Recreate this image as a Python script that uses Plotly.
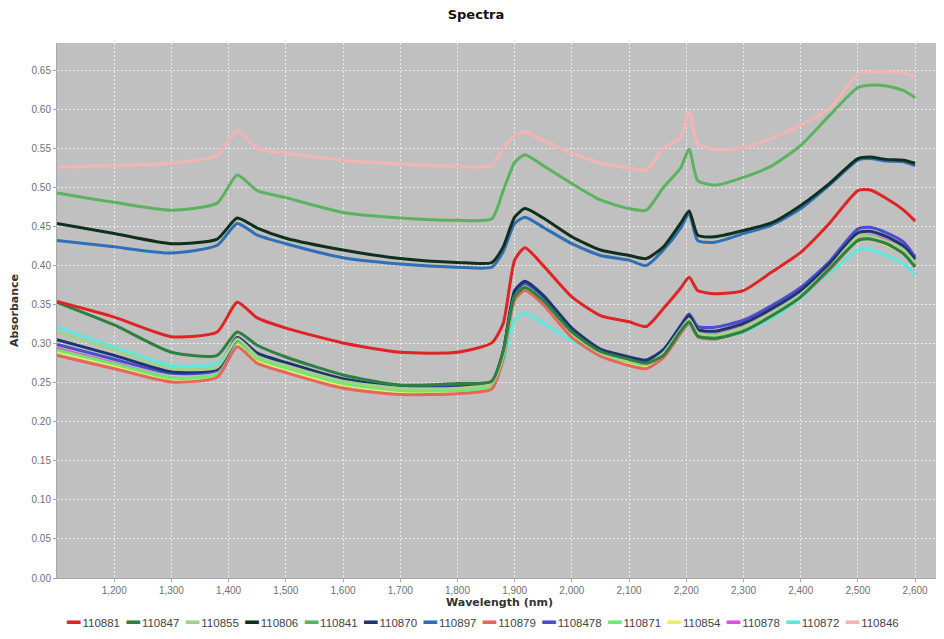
import plotly.graph_objects as go

wavelength = [1100, 1200, 1300, 1380, 1415, 1450, 1500, 1600, 1700, 1800, 1860, 1880, 1900, 1918,
              1950, 2000, 2050, 2100, 2130, 2160, 2190, 2205, 2220, 2250, 2300, 2350, 2400, 2450,
              2500, 2520, 2550, 2580, 2600]

s_110881 = [0.354, 0.334, 0.309, 0.315, 0.353, 0.333, 0.320, 0.301, 0.289, 0.289, 0.301, 0.326, 0.407, 0.423,
            0.400, 0.360, 0.336, 0.328, 0.322, 0.345, 0.371, 0.385, 0.368, 0.364, 0.368, 0.392, 0.417, 0.454,
            0.496, 0.497, 0.486, 0.471, 0.457]
s_110847 = [0.353, 0.324, 0.289, 0.285, 0.315, 0.298, 0.283, 0.260, 0.247, 0.249, 0.252, 0.290, 0.360, 0.372,
            0.355, 0.315, 0.290, 0.280, 0.275, 0.285, 0.316, 0.328, 0.310, 0.307, 0.316, 0.336, 0.360, 0.396,
            0.432, 0.434, 0.428, 0.415, 0.398]
s_110855 = [0.315, 0.292, 0.268, 0.270, 0.306, 0.284, 0.272, 0.252, 0.243, 0.243, 0.249, 0.285, 0.360, 0.372,
            0.355, 0.314, 0.288, 0.278, 0.274, 0.288, 0.318, 0.331, 0.314, 0.311, 0.321, 0.340, 0.363, 0.397,
            0.437, 0.438, 0.431, 0.420, 0.403]
s_110806 = [0.454, 0.441, 0.428, 0.434, 0.461, 0.448, 0.435, 0.420, 0.409, 0.404, 0.404, 0.424, 0.462, 0.473,
            0.461, 0.437, 0.420, 0.413, 0.409, 0.424, 0.454, 0.470, 0.439, 0.437, 0.445, 0.455, 0.477, 0.505,
            0.537, 0.539, 0.536, 0.535, 0.531]
s_110841 = [0.493, 0.481, 0.471, 0.480, 0.516, 0.496, 0.487, 0.468, 0.461, 0.458, 0.460, 0.496, 0.532, 0.542,
            0.528, 0.505, 0.484, 0.473, 0.471, 0.500, 0.525, 0.549, 0.509, 0.503, 0.513, 0.528, 0.554, 0.592,
            0.628, 0.631, 0.630, 0.624, 0.615]
s_110870 = [0.305, 0.285, 0.264, 0.268, 0.308, 0.288, 0.276, 0.255, 0.244, 0.244, 0.250, 0.290, 0.368, 0.380,
            0.362, 0.320, 0.293, 0.283, 0.279, 0.292, 0.322, 0.336, 0.318, 0.316, 0.326, 0.345, 0.368, 0.402,
            0.442, 0.444, 0.437, 0.425, 0.408]
s_110897 = [0.432, 0.424, 0.416, 0.426, 0.454, 0.439, 0.428, 0.410, 0.402, 0.398, 0.398, 0.418, 0.454, 0.462,
            0.449, 0.428, 0.413, 0.407, 0.400, 0.420, 0.448, 0.467, 0.432, 0.430, 0.441, 0.452, 0.473, 0.503,
            0.535, 0.537, 0.534, 0.533, 0.528]
s_110879 = [0.285, 0.268, 0.251, 0.257, 0.296, 0.275, 0.263, 0.243, 0.235, 0.236, 0.242, 0.280, 0.356, 0.368,
            0.350, 0.308, 0.284, 0.272, 0.268, 0.282, 0.313, 0.326, 0.309, 0.306, 0.316, 0.336, 0.360, 0.394,
            0.433, 0.435, 0.428, 0.416, 0.400]
s_1108478 = [0.299, 0.280, 0.262, 0.266, 0.305, 0.285, 0.273, 0.254, 0.245, 0.246, 0.252, 0.290, 0.365, 0.377,
             0.360, 0.318, 0.292, 0.282, 0.278, 0.292, 0.323, 0.338, 0.322, 0.321, 0.330, 0.349, 0.372, 0.405,
             0.447, 0.449, 0.442, 0.430, 0.411]
s_110871 = [0.292, 0.274, 0.256, 0.261, 0.302, 0.281, 0.269, 0.249, 0.240, 0.240, 0.246, 0.285, 0.362, 0.374,
            0.356, 0.314, 0.288, 0.277, 0.273, 0.287, 0.318, 0.330, 0.313, 0.309, 0.319, 0.339, 0.362, 0.396,
            0.435, 0.437, 0.430, 0.418, 0.401]
s_110854 = [0.290, 0.272, 0.254, 0.259, 0.300, 0.279, 0.267, 0.247, 0.238, 0.238, 0.244, 0.282, 0.358, 0.370,
            0.352, 0.311, 0.285, 0.274, 0.270, 0.284, 0.315, 0.327, 0.310, 0.307, 0.317, 0.337, 0.360, 0.394,
            0.432, 0.434, 0.427, 0.415, 0.399]
s_110878 = [0.294, 0.275, 0.256, 0.260, 0.300, 0.279, 0.267, 0.247, 0.238, 0.239, 0.245, 0.283, 0.360, 0.372,
            0.354, 0.312, 0.286, 0.275, 0.271, 0.286, 0.317, 0.330, 0.314, 0.312, 0.322, 0.341, 0.364, 0.398,
            0.437, 0.439, 0.432, 0.420, 0.404]
s_110872 = [0.321, 0.296, 0.272, 0.275, 0.303, 0.283, 0.272, 0.253, 0.243, 0.243, 0.247, 0.275, 0.330, 0.339,
            0.326, 0.304, 0.287, 0.277, 0.272, 0.285, 0.312, 0.325, 0.309, 0.306, 0.315, 0.333, 0.358, 0.390,
            0.420, 0.421, 0.413, 0.402, 0.389]
s_110846 = [0.526, 0.528, 0.531, 0.541, 0.573, 0.550, 0.544, 0.535, 0.530, 0.527, 0.528, 0.550, 0.567, 0.571,
            0.560, 0.544, 0.531, 0.525, 0.522, 0.550, 0.564, 0.597, 0.556, 0.548, 0.551, 0.563, 0.580, 0.601,
            0.645, 0.648, 0.648, 0.647, 0.641]

series_names = ["110881", "110847", "110855", "110806", "110841", "110870", "110897",
                "110879", "1108478", "110871", "110854", "110878", "110872", "110846"]
series_values = [s_110881, s_110847, s_110855, s_110806, s_110841, s_110870, s_110897,
                 s_110879, s_1108478, s_110871, s_110854, s_110878, s_110872, s_110846]
series_colors = ["#e02424", "#2f8040", "#a3d08a", "#10301c", "#5cb35f", "#1c3670", "#2e6fb5",
                 "#e8645e", "#4c4ccc", "#6ee86e", "#eeee66", "#e050e0", "#5ce8e0", "#f4b4b4"]

x_ticks = [1200, 1300, 1400, 1500, 1600, 1700, 1800, 1900, 2000, 2100, 2200, 2300, 2400, 2500, 2600]
y_ticks = [0.00, 0.05, 0.10, 0.15, 0.20, 0.25, 0.30, 0.35, 0.40, 0.45, 0.50, 0.55, 0.60, 0.65]

W, H = 936, 631  # page body adds an 8px offset, so the figure is sized to fill the window

fig = go.Figure()
for name, vals, col in reversed(list(zip(series_names, series_values, series_colors))):
    fig.add_trace(go.Scatter(x=wavelength, y=vals, name=name, mode="lines",
                             line=dict(color=col, width=3, shape="spline", smoothing=0.6),
                             showlegend=False))

legend_parts = []
for name, col in zip(series_names, series_colors):
    legend_parts.append(
        f"<span style='color:{col};font-size:22px;font-family:DejaVu Sans;baseline-shift:-3px'>━</span>"
        f"<span style='font-size:8px'> </span><span style='color:#444'>{name}</span>")
legend_text = "&nbsp; ".join(legend_parts)

fig.update_layout(
    width=W, height=H,
    paper_bgcolor="white", plot_bgcolor="#c0c0c0",
    margin=dict(l=49, r=2, t=35, b=61),
    font=dict(family="Liberation Sans, Arial, sans-serif", size=10, color="#707070"),
    title=dict(text="<b>Spectra</b>", x=0.5, xanchor="center", y=1 - 6 / H, yref="container",
               yanchor="middle", font=dict(family="DejaVu Sans", size=13, color="#111")),
    xaxis=dict(range=[1100, 2647], tickvals=x_ticks, tickformat=",", showgrid=True,
               gridcolor="rgba(255,255,255,0.7)", griddash="2px,2px", gridwidth=1,
               showline=True, linecolor="#a8a8a8", linewidth=1, ticks="outside", ticklen=3,
               tickcolor="#aaa", zeroline=False, automargin=False,
               title=dict(text="<b>Wavelength (nm)</b>", standoff=3,
                          font=dict(family="DejaVu Sans", size=11, color="#333"))),
    yaxis=dict(range=[0, 0.685], tickvals=y_ticks, tickformat=".2f", showgrid=True,
               gridcolor="rgba(255,255,255,0.7)", griddash="2px,2px", gridwidth=1,
               showline=True, linecolor="#a8a8a8", linewidth=1, ticks="outside", ticklen=3,
               tickcolor="#aaa", zeroline=False, automargin=False,
               title=dict(text="<b>Absorbance</b>", standoff=10,
                          font=dict(family="DejaVu Sans", size=11, color="#333"))),
    annotations=[dict(text=legend_text, xref="paper", yref="paper", x=0.481, y=-0.083,
                      xanchor="center", yanchor="middle", showarrow=False,
                      font=dict(family="Liberation Sans, Arial, sans-serif", size=11.5, color="#444"))],
)

fig.write_html("out.html")
